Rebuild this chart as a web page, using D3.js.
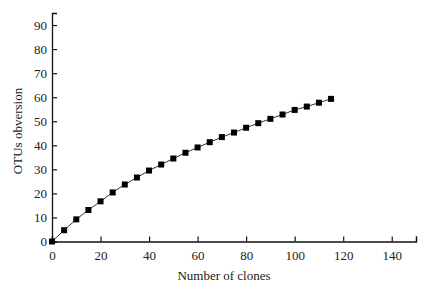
<!DOCTYPE html>
<html>
<head>
<meta charset="utf-8">
<script src="https://cdn.jsdelivr.net/npm/d3@7"></script>
<style>
  body { margin: 0; background: #fff; }
  text { font-family: "Liberation Serif", "DejaVu Serif", serif; fill: #222; }
</style>
</head>
<body>
<svg id="chart" width="430" height="287"></svg>
<script>
// clones sampled vs OTUs observed
const clones = [0, 5, 10, 15, 20, 25, 30, 35, 40, 45, 50, 55, 60, 65, 70, 75, 80, 85, 90, 95, 100, 105, 110, 115];
const otus   = [0, 4.7, 9.2, 13.1, 16.7, 20.4, 23.7, 26.6, 29.5, 32.0, 34.5, 36.9, 39.1, 41.3, 43.4, 45.3, 47.3, 49.2, 51.0, 52.8, 54.7, 56.1, 57.7, 59.3];
const xTicks = [0, 20, 40, 60, 80, 100, 120, 140];
const yTicks = [0, 10, 20, 30, 40, 50, 60, 70, 80, 90];
const xTitle = 'Number of clones';
const yTitle = 'OTUs obversion';

const svg = d3.select('#chart');

/* ---- scales ---- */
let x = d3.scaleLinear().domain([0, 150]).range([52, 416]);
let y = d3.scaleLinear().domain([0, 95]).range([241.5, 13]);

/* ---- axes (inward ticks) ---- */
let gx = svg.append('g')
    .attr('transform', 'translate(0,' + y(0) + ')')
    .call(d3.axisBottom(x).tickValues(xTicks.concat([150])).tickSize(-5).tickPadding(9)
        .tickFormat((d) => { return d === 150 ? '' : d; }));
let gy = svg.append('g')
    .attr('transform', 'translate(' + x(0) + ',0)')
    .call(d3.axisLeft(y).tickValues(yTicks).tickSize(-5).tickPadding(5));

[gx, gy].forEach((g) => {
    g.select('.domain').attr('stroke', '#111').attr('stroke-width', 1.3);
    g.selectAll('.tick line').attr('stroke', '#111').attr('stroke-width', 1.2);
    g.selectAll('.tick text')
        .attr('font-family', '"Liberation Serif", serif')
        .attr('font-size', 13)
        .attr('fill', '#222');
});

/* ---- series ---- */
let pts = clones.map((c, i) => { return { c: c, v: otus[i] }; });

svg.append('path')
    .datum(pts)
    .attr('fill', 'none')
    .attr('stroke', '#333')
    .attr('stroke-width', 1)
    .attr('d', d3.line().x((d) => { return x(d.c); }).y((d) => { return y(d.v); }));

let s = 6;
svg.selectAll('rect.pt')
    .data(pts)
    .enter()
    .append('rect')
    .attr('class', 'pt')
    .attr('x', (d) => { return x(d.c) - s / 2; })
    .attr('y', (d) => { return y(d.v) - s / 2; })
    .attr('width', s)
    .attr('height', s)
    .attr('fill', '#000');

/* ---- titles ---- */
svg.append('text')
    .attr('x', 224)
    .attr('y', 280)
    .attr('text-anchor', 'middle')
    .attr('font-size', 13)
    .text(xTitle);

svg.append('text')
    .attr('transform', 'translate(21.5,131) rotate(-90)')
    .attr('text-anchor', 'middle')
    .attr('font-size', 13)
    .text(yTitle);
</script>
</body>
</html>
